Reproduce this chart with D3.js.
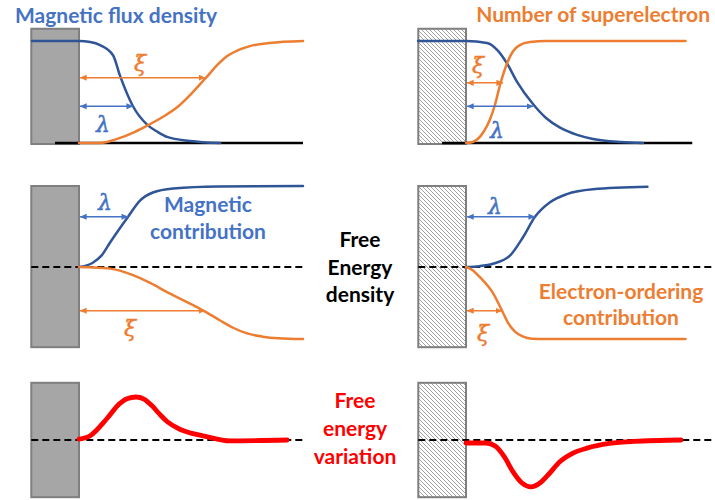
<!DOCTYPE html>
<html>
<head>
<meta charset="utf-8">
<script src="https://cdn.jsdelivr.net/npm/d3@7"></script>
<style>
  body { margin: 0; background: #fff; }
  svg { display: block; }
  .lbl { font-family: Lato, "Open Sans", sans-serif; font-weight: bold; }
  .greek { font-family: "DejaVu Serif", serif; font-style: italic; }
</style>
</head>
<body>
<svg width="715" height="500"></svg>
<script>
// curve values: [distance from wall, relative value]
var fluxLeft   = [[-2.1,1],[0,1],[0.5,0.99],[0.94,0.96],[1.52,0.86],[1.83,0.66],[2.41,0.36],[3.04,0.18],[3.5,0.11],[3.93,0.06],[4.96,0.02],[6.3,0]];
var superLeft  = [[0,0],[0.94,0],[1.7,0.04],[2.5,0.11],[3.04,0.17],[3.7,0.25],[4.38,0.35],[5.0,0.48],[5.63,0.63],[6.2,0.77],[6.6,0.85],[7.1,0.91],[7.63,0.95],[8.5,0.98],[10,1]];
var fluxRight  = [[-2.14,1],[0,1],[0.94,0.98],[1.4,0.91],[1.83,0.78],[2.28,0.6],[3.0,0.38],[3.6,0.24],[4.2,0.15],[4.96,0.08],[5.67,0.04],[6.9,0.01],[7.9,0]];
var superRight = [[0,0],[0.3,0.01],[0.76,0.1],[1.05,0.22],[1.3,0.38],[1.52,0.57],[1.83,0.78],[2.1,0.9],[2.4,0.96],[2.86,0.99],[3.6,1],[9.8,1]];

var magLeft    = [[0,0],[0.6,0.05],[1.0,0.14],[1.38,0.3],[1.8,0.47],[2.19,0.62],[2.72,0.82],[3.3,0.92],[4.2,0.97],[6.2,0.995],[10,1]];
var orderLeft  = [[0,0],[1.38,-0.02],[2.41,-0.1],[3.2,-0.2],[3.93,-0.31],[4.8,-0.43],[5.63,-0.55],[6.3,-0.66],[6.88,-0.75],[7.5,-0.82],[8.2,-0.86],[8.9,-0.88],[10,-0.89]];
var magRight   = [[0,0],[0.6,0.01],[1.2,0.04],[1.96,0.14],[2.55,0.37],[3.08,0.62],[3.75,0.8],[4.5,0.9],[5.67,0.96],[8.1,0.99]];
var orderRight = [[0,0],[0.3,-0.04],[0.6,-0.12],[1.2,-0.32],[1.61,-0.54],[1.9,-0.7],[2.2,-0.8],[2.55,-0.86],[2.95,-0.885],[3.5,-0.89],[9.8,-0.89]];

var varLeft    = [[0,0.02],[0.5,0.1],[1.25,0.5],[1.8,0.84],[2.14,0.96],[2.55,1],[2.9,0.95],[3.25,0.8],[3.6,0.6],[3.93,0.43],[4.5,0.25],[5.0,0.16],[5.6,0.09],[6.74,-0.02],[9.29,0]];
var varRight   = [[0,-0.07],[0.9,-0.07],[1.3,-0.14],[1.7,-0.38],[2.1,-0.74],[2.5,-1.0],[2.9,-1.09],[3.3,-1.0],[3.65,-0.82],[4.2,-0.5],[4.8,-0.3],[5.4,-0.19],[6.4,-0.08],[7.5,-0.03],[9.6,0]];

// length arrows: [end distance, height]
var xiArrows     = [[5.63,0.64],[1.65,0.59],[5.63,-0.54],[1.61,-0.54]];
var lambdaArrows = [[2.41,0.36],[3.0,0.36],[2.19,0.62],[3.08,0.62]];

var titles     = ["Magnetic flux density", "Number of superelectron"];
var magLabel   = ["Magnetic", "contribution"];
var orderLabel = ["Electron-ordering", "contribution"];
var freeLabel  = ["Free", "Energy", "density"];
var varLabel   = ["Free", "energy", "variation"];

var BLUE_LINE = "#2F5597", BLUE = "#4472C4", ORANGE = "#ED7D31", RED = "#FF0000";

var svg = d3.select("svg");

// scales
var xL = d3.scaleLinear().domain([0,10]).range([79,303]);
var xR = d3.scaleLinear().domain([0,10]).range([466,690]);
var yTop = d3.scaleLinear().domain([0,1]).range([143,41]);
var yMid = d3.scaleLinear().domain([0,1]).range([267,186]);
var yBot = d3.scaleLinear().domain([0,1]).range([440,397]);

var defs = svg.append("defs");
var hatch = defs.append("pattern")
    .attr("id","hatch")
    .attr("patternUnits","userSpaceOnUse")
    .attr("width",4).attr("height",4);
hatch.append("rect").attr("width",4).attr("height",4).attr("fill","#fff");
hatch.append("path")
    .attr("d","M0,0L4,4M-1,3L1,5M3,-1L5,1")
    .attr("stroke","#a3a3a3").attr("stroke-width",1);

[["blue",BLUE],["orange",ORANGE]].forEach(function(m){
  defs.append("marker")
    .attr("id","arr-"+m[0])
    .attr("viewBox","0 0 8 8")
    .attr("refX",7.5).attr("refY",4)
    .attr("markerUnits","userSpaceOnUse")
    .attr("markerWidth",7).attr("markerHeight",7)
    .attr("orient","auto-start-reverse")
    .append("path").attr("d","M0,0.5L8,4L0,7.5z").attr("fill",m[1]);
});

// walls (normal metal solid grey, superconductor hatched)
function wall(x, y, top, bottom, fill){
  svg.append("rect")
    .attr("x", x(-2.13)).attr("y", y(top))
    .attr("width", x(0)-x(-2.13)).attr("height", y(bottom)-y(top))
    .attr("fill", fill).attr("stroke","#7f7f7f").attr("stroke-width",2);
}
wall(xL, yTop, 1.12, -0.01, "#a6a6a6");
wall(xR, yTop, 1.12, -0.01, "url(#hatch)");
wall(xL, yMid, 1.0, -0.99, "#a6a6a6");
wall(xR, yMid, 1.0, -0.99, "url(#hatch)");
wall(xL, yBot, 1.33, -1.33, "#a6a6a6");
wall(xR, yBot, 1.33, -1.33, "url(#hatch)");

// base lines
function hline(x, y, x0, x1, dashed){
  svg.append("line")
    .attr("x1", x(x0)).attr("x2", x(x1)).attr("y1", y(0)).attr("y2", y(0))
    .attr("stroke","#000").attr("stroke-width", dashed ? 2 : 2.5)
    .attr("stroke-dasharray", dashed ? "7,4" : null);
}
hline(xL, yTop, -1.07, 10, false);
hline(xR, yTop, -1.07, 10.1, false);
hline(xL, yMid, -2.13, 10, true);
hline(xR, yMid, -2.13, 11.2, true);
hline(xL, yBot, -2.13, 10, true);
hline(xR, yBot, -2.13, 11.2, true);

function curve(data, x, y, color, w){
  var line = d3.line()
    .x(function(d){ return x(d[0]); })
    .y(function(d){ return y(d[1]); })
    .curve(d3.curveMonotoneX);
  svg.append("path").datum(data)
    .attr("d", line)
    .attr("fill","none").attr("stroke",color)
    .attr("stroke-width",w).attr("stroke-linecap","round");
}
curve(fluxLeft,   xL, yTop, BLUE_LINE, 2.5);
curve(superLeft,  xL, yTop, ORANGE, 2.5);
curve(fluxRight,  xR, yTop, BLUE_LINE, 2.5);
curve(superRight, xR, yTop, ORANGE, 2.5);
curve(magLeft,    xL, yMid, BLUE_LINE, 2.5);
curve(orderLeft,  xL, yMid, ORANGE, 2.5);
curve(magRight,   xR, yMid, BLUE_LINE, 2.5);
curve(orderRight, xR, yMid, ORANGE, 2.5);
curve(varLeft,    xL, yBot, RED, 4.8);
curve(varRight,   xR, yBot, RED, 4.8);

var arrowPanels = [[xL,yTop],[xR,yTop],[xL,yMid],[xR,yMid]];
function arrows(list, color, id){
  list.forEach(function(a, i){
    var x = arrowPanels[i][0], y = arrowPanels[i][1];
    svg.append("line")
      .attr("x1", x(0.05)).attr("x2", x(a[0]))
      .attr("y1", y(a[1])).attr("y2", y(a[1]))
      .attr("stroke", color).attr("stroke-width", 1.6)
      .attr("marker-start","url(#arr-"+id+")")
      .attr("marker-end","url(#arr-"+id+")");
  });
}
arrows(xiArrows, ORANGE, "orange");
arrows(lambdaArrows, BLUE, "blue");

function greek(ch, cx, base, color){
  svg.append("text").attr("class","greek")
    .attr("x",cx).attr("y",base).attr("text-anchor","middle")
    .attr("font-size",22).attr("fill",color)
    .attr("stroke",color).attr("stroke-width",0.5).text(ch);
}
greek("\u03BE", 140, 71, ORANGE);
greek("\u03BB", 103, 132, BLUE);
greek("\u03BE", 478, 73, ORANGE);
greek("\u03BB", 497, 138, BLUE);
greek("\u03BB", 105, 210, BLUE);
greek("\u03BE", 130, 336, ORANGE);
greek("\u03BB", 495, 214, BLUE);
greek("\u03BE", 483, 341, ORANGE);

function block(lines, cx, base0, step, color, size){
  svg.append("g").selectAll("text").data(lines).enter().append("text")
    .attr("class","lbl")
    .attr("x",cx).attr("y",function(d,i){ return base0 + i*step; })
    .attr("text-anchor","middle").attr("font-size",size)
    .attr("fill",color).text(function(d){ return d; });
}
svg.append("text").attr("class","lbl").attr("x",15).attr("y",23)
  .attr("font-size",21).attr("fill",BLUE).text(titles[0]);
svg.append("text").attr("class","lbl").attr("x",710).attr("y",22)
  .attr("text-anchor","end").attr("font-size",21).attr("fill",ORANGE).text(titles[1]);
block(magLabel, 208, 212, 27, BLUE, 21);
block(orderLabel, 621, 299, 26, ORANGE, 21);
block(freeLabel, 360, 247, 27.5, "#000", 21);
block(varLabel, 355, 408, 28, RED, 21);
</script>
</body>
</html>
